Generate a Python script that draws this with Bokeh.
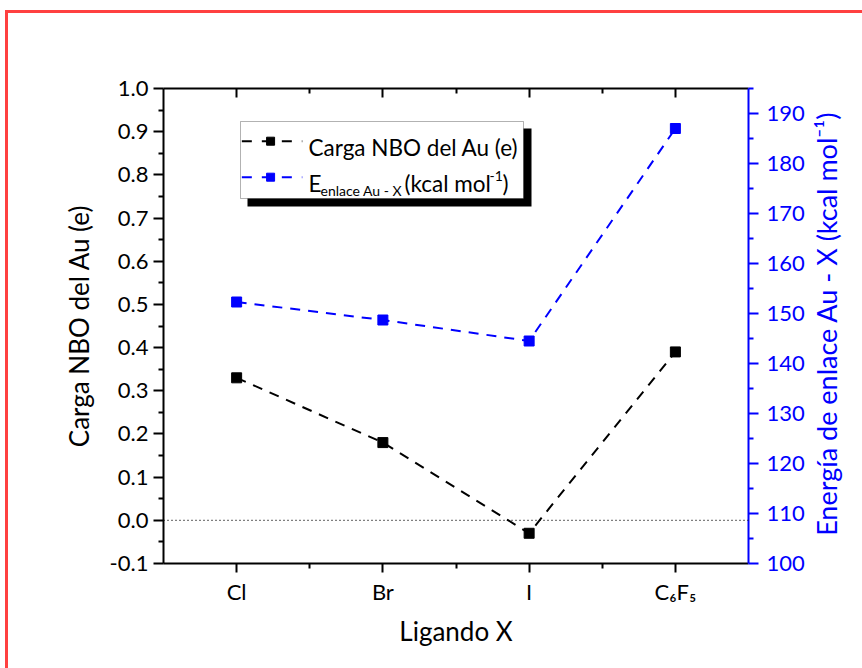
import math
from bokeh.plotting import figure
from bokeh.models import (Range1d, LinearAxis, FixedTicker, PrintfTickFormatter,
                          Span, Label, BoxAnnotation, ColumnDataSource,
                          InlineStyleSheet)
from bokeh.embed import file_html
from bokeh.resources import INLINE

try:
    from bokeh.models import GlobalInlineStyleSheet
except ImportError:
    GlobalInlineStyleSheet = None

# ---------------- data ----------------
categories = ["Cl", "Br", "I", "C6F5"]
x_pos = [1, 2, 3, 4]
nbo_charge = [0.33, 0.18, -0.03, 0.39]          # Carga NBO del Au (e)
bond_energy = [152.3, 148.7, 144.5, 187.0]      # E enlace Au-X (kcal/mol)

left_ticks = [-0.1, 0.0, 0.1, 0.2, 0.3, 0.4, 0.5, 0.6, 0.7, 0.8, 0.9, 1.0]
left_minor = [-0.05, 0.05, 0.15, 0.25, 0.35, 0.45, 0.55, 0.65, 0.75, 0.85, 0.95]
right_ticks = [100, 110, 120, 130, 140, 150, 160, 170, 180, 190]
right_minor = [105, 115, 125, 135, 145, 155, 165, 175, 185, 195]
x_ticks = [1, 2, 3, 4]
x_minor = [1.5, 2.5, 3.5]
x_tick_labels = {1: "Cl", 2: "Br", 3: "I", 4: "C\u2086F\u2085"}

FONT = "Lato"
BLUE = "#0000FF"
RED = "#FF4040"

W, H = 862, 668
FL, FT = 163, 88
FW, FH = 590, 475
FR, FB = W - FL - FW, H - FT - FH

p = figure(width=W, height=H, output_backend="svg", toolbar_location=None,
           x_range=Range1d(0.5, 4.5), y_range=Range1d(-0.1, 1.0),
           min_border_left=FL, min_border_right=FR,
           min_border_top=FT, min_border_bottom=FB,
           x_axis_location=None, y_axis_location=None)
p.extra_y_ranges = {"energy": Range1d(100, 195)}
p.title.visible = False
p.xgrid.visible = False
p.ygrid.visible = False
p.outline_line_color = None
p.background_fill_color = "white"
p.border_fill_color = "white"

# red frame (top and left edges), fixed to the page
frame_css = f"""
SEL::before {{ content: ""; position: fixed; left: 5px; top: 10px;
  width: {W - 5}px; height: 3px; background: {RED}; z-index: 1000;
  pointer-events: none; }}
SEL::after {{ content: ""; position: fixed; left: 5px; top: 10px;
  width: 3px; height: {H - 10}px; background: {RED}; z-index: 1000;
  pointer-events: none; }}
"""
if GlobalInlineStyleSheet is not None:
    p.stylesheets = [GlobalInlineStyleSheet(css=frame_css.replace("SEL", "body"))]
else:
    p.stylesheets = [InlineStyleSheet(css=frame_css.replace("SEL", ":host"))]


def style(ax, color, out_major, out_minor, in_major, in_minor, standoff):
    ax.axis_line_color = color
    ax.axis_line_width = 2
    ax.major_tick_line_color = color
    ax.minor_tick_line_color = color
    ax.major_tick_line_width = 2
    ax.minor_tick_line_width = 2
    ax.major_tick_out = out_major
    ax.minor_tick_out = out_minor
    ax.major_tick_in = in_major
    ax.minor_tick_in = in_minor
    ax.major_label_text_color = color
    ax.major_label_text_font = FONT
    ax.major_label_text_font_size = "22px"
    ax.major_label_standoff = standoff
    ax.axis_label_text_font = FONT
    ax.axis_label_text_font_size = "26px"
    ax.axis_label_text_font_style = "normal"
    ax.axis_label_text_color = color


bottom = LinearAxis(ticker=FixedTicker(ticks=x_ticks, minor_ticks=x_minor),
                    major_label_overrides=x_tick_labels, axis_label="Ligando X")
style(bottom, "black", 9, 5, 0, 0, 5)
bottom.axis_label_standoff = 7
p.add_layout(bottom, "below")

top = LinearAxis(ticker=FixedTicker(ticks=x_ticks, minor_ticks=x_minor))
style(top, "black", 0, 0, 9, 5, 2)
top.major_label_text_font_size = "0px"
top.major_label_text_color = None
p.add_layout(top, "above")

left = LinearAxis(ticker=FixedTicker(ticks=left_ticks, minor_ticks=left_minor),
                  formatter=PrintfTickFormatter(format="%.1f"),
                  axis_label="Carga NBO del Au (e)")
style(left, "black", 10, 5, 0, 0, 5)
left.axis_label_standoff = 12
p.add_layout(left, "left")

right_title = "Energía de enlace Au - X (kcal mol\u207b\u00b9)"
right = LinearAxis(y_range_name="energy",
                   ticker=FixedTicker(ticks=right_ticks, minor_ticks=right_minor))
style(right, BLUE, 10, 5, 0, 0, 8)
right.axis_label_text_font_size = "27px"
right.axis_label_standoff = 19
if hasattr(right, "axis_label_orientation"):
    right.axis_label_orientation = math.pi / 2
if hasattr(right, "axis_label_align"):
    right.axis_label_align = "start"
    right_title = "\u00a0" * 4 + right_title
right.axis_label = right_title
p.add_layout(right, "right")

p.add_layout(Span(location=0, dimension="width", line_color="black",
                  line_dash="1 3", line_width=1.2))

src = ColumnDataSource(dict(x=x_pos, nbo=nbo_charge, energy=bond_energy, cat=categories))
p.line("x", "nbo", source=src, line_color="black", line_width=2, line_dash="10 8")
p.scatter("x", "nbo", source=src, marker="square", size=10,
          fill_color="black", line_color="black")
p.line("x", "energy", source=src, y_range_name="energy", line_color=BLUE,
       line_width=2, line_dash="10 8")
p.scatter("x", "energy", source=src, y_range_name="energy", marker="square",
          size=10, fill_color=BLUE, line_color=BLUE)


# ---------------- helpers (canvas px -> data) ----------------
def xd(px):
    return 0.5 + (px - FL) / FW * 4.0


def yd(py):
    return 1.0 - (py - FT) / FH * 1.1


def label(text, px, py, size, color="black", align="left"):
    p.add_layout(Label(x=px, y=py, x_units="canvas", y_units="canvas",
                       text=text, text_font=FONT, text_font_size=f"{size}px",
                       text_color=color, text_align=align,
                       text_baseline="alphabetic"))


def pbox(l, r, t, b, fill, line=None):
    p.add_layout(BoxAnnotation(left=l, right=r, top=t, bottom=b,
                               left_units="canvas", right_units="canvas",
                               top_units="canvas", bottom_units="canvas",
                               fill_color=fill, fill_alpha=1.0,
                               line_color=line, line_width=1, level="underlay"))


# ---------------- legend ----------------
pbox(247, 531, 128, 206, "black")
pbox(240, 523, 121, 198, "white", line="black")

for py, col in zip([140.7, 176.7], ["black", BLUE]):
    p.line([xd(242), xd(303)], [yd(py), yd(py)], line_color=col, line_width=2,
           line_dash="10 10")
    p.scatter([xd(271)], [yd(py)], marker="square", size=8, fill_color=col,
              line_color=col)

label("Carga NBO del Au (e)", 308, 147, 22.5)
label("E", 308, 182.7, 22.5)
label("enlace Au - X", 320, 190, 14)
label("(kcal mol", 404, 182.7, 22.5)
label("-1", 489, 175, 14)
label(")", 502, 182.7, 22.5)

open("out.html", "w").write(file_html(p, INLINE))
